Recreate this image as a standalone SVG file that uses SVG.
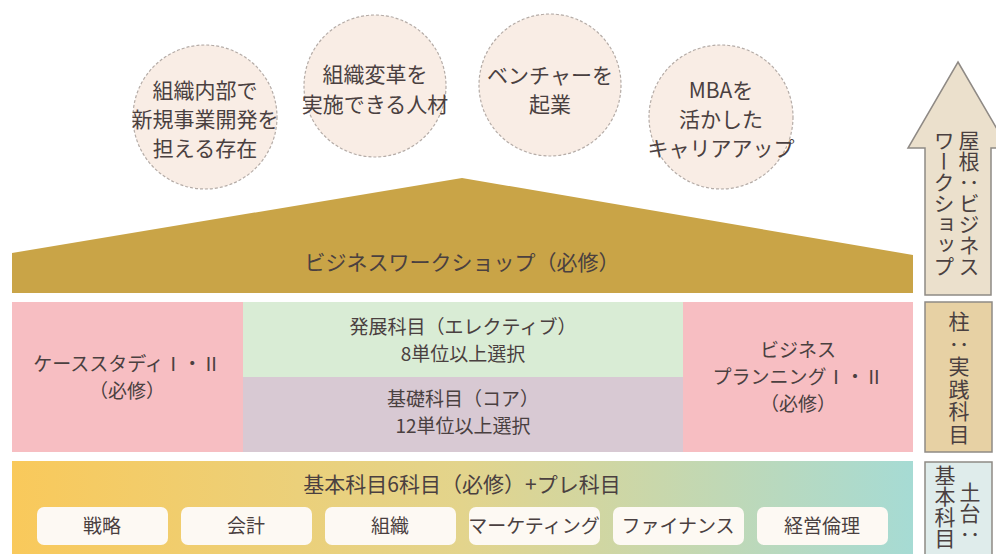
<svg xmlns="http://www.w3.org/2000/svg" width="996" height="554" viewBox="0 0 996 554">
<defs>
<linearGradient id="baseGrad" x1="0" y1="0" x2="1" y2="0">
<stop offset="0" stop-color="#f9c95b"/>
<stop offset="0.5" stop-color="#e3d48c"/>
<stop offset="1" stop-color="#a6dbd4"/>
</linearGradient>
<style>
text{font-family:"Noto Sans CJK JP","Liberation Serif",sans-serif;fill:#4a4040;text-anchor:middle}
.goal{fill:#f9ede5;stroke:#b5aca7;stroke-width:1.2;stroke-dasharray:3 2}
.g{font-size:21px}
.m{font-size:19px}
.p{font-size:19px}
.pill{fill:#fdf9f3}
.side{stroke:#8f8a85;stroke-width:1.5}
.v{font-size:21px;writing-mode:vertical-rl;text-anchor:start}
</style>
</defs>
<rect width="996" height="554" fill="#ffffff"/>

<g id="goal1">
<circle class="goal" cx="205" cy="117" r="72"/>
<text class="g" x="205" y="98">組織内部で</text>
<text class="g" x="205" y="127">新規事業開発を</text>
<text class="g" x="205" y="156">担える存在</text>
</g>
<g id="goal2">
<circle class="goal" cx="375" cy="86" r="71"/>
<text class="g" x="375" y="82">組織変革を</text>
<text class="g" x="375" y="112">実施できる人材</text>
</g>
<g id="goal3">
<circle class="goal" cx="550" cy="85" r="71"/>
<text class="g" x="550" y="83">ベンチャーを</text>
<text class="g" x="550" y="112">起業</text>
</g>
<g id="goal4">
<circle class="goal" cx="721" cy="117" r="72"/>
<text class="g" x="721" y="98">MBAを</text>
<text class="g" x="721" y="127">活かした</text>
<text class="g" x="721" y="156">キャリアアップ</text>
</g>

<g id="roof">
<polygon points="12,253 462,178 913,255 913,293 12,293" fill="#c9a447"/>
<text class="g" x="462" y="270">ビジネスワークショップ（必修）</text>
</g>

<g id="case-study">
<rect x="12" y="302" width="231" height="150" fill="#f7bec2"/>
<text class="m" x="127" y="371">ケーススタディⅠ・Ⅱ</text>
<text class="m" x="127" y="398">（必修）</text>
</g>
<g id="elective">
<rect x="243" y="302" width="440" height="75" fill="#d9ecd5"/>
<text class="m" x="463" y="334">発展科目（エレクティブ）</text>
<text class="m" x="463" y="361">8単位以上選択</text>
</g>
<g id="core">
<rect x="243" y="377" width="440" height="75" fill="#d8c9d3"/>
<text class="m" x="463" y="406">基礎科目（コア）</text>
<text class="m" x="463" y="433">12単位以上選択</text>
</g>
<g id="business-planning">
<rect x="683" y="302" width="230" height="150" fill="#f7bec2"/>
<text class="m" x="798" y="357">ビジネス</text>
<text class="m" x="798" y="384">プランニングⅠ・Ⅱ</text>
<text class="m" x="798" y="411">（必修）</text>
</g>

<g id="foundation">
<rect x="12" y="461" width="901" height="100" fill="url(#baseGrad)"/>
<text class="g" x="462" y="492">基本科目6科目（必修）+プレ科目</text>
<rect class="pill" x="37" y="507" width="131" height="38" rx="7"/>
<text class="p" x="102" y="533">戦略</text>
<rect class="pill" x="181" y="507" width="131" height="38" rx="7"/>
<text class="p" x="246" y="533">会計</text>
<rect class="pill" x="325" y="507" width="131" height="38" rx="7"/>
<text class="p" x="390" y="533">組織</text>
<rect class="pill" x="469" y="507" width="131" height="38" rx="7"/>
<text class="p" x="534" y="533">マーケティング</text>
<rect class="pill" x="613" y="507" width="131" height="38" rx="7"/>
<text class="p" x="678" y="533">ファイナンス</text>
<rect class="pill" x="757" y="507" width="131" height="38" rx="7"/>
<text class="p" x="822" y="533">経営倫理</text>
</g>

<g id="legend-roof">
<polygon class="side" points="958,62 1008,148 991,148 991,295 925,295 925,148 908,148" fill="#ebe0cc"/>
<text class="v" x="969" y="130">屋根：ビジネス</text>
<text class="v" x="944" y="130">ワークショップ</text>
</g>
<g id="legend-pillar">
<rect class="side" x="925" y="302" width="67" height="150" fill="#e7d1a4"/>
<text class="v" x="959" y="311" style="letter-spacing:1.5px">柱：実践科目</text>
</g>
<g id="legend-base">
<rect class="side" x="925" y="462" width="67" height="100" fill="#dfeceb"/>
<text class="v" x="970" y="482">土台：</text>
<text class="v" x="945" y="465">基本科目</text>
</g>
</svg>
